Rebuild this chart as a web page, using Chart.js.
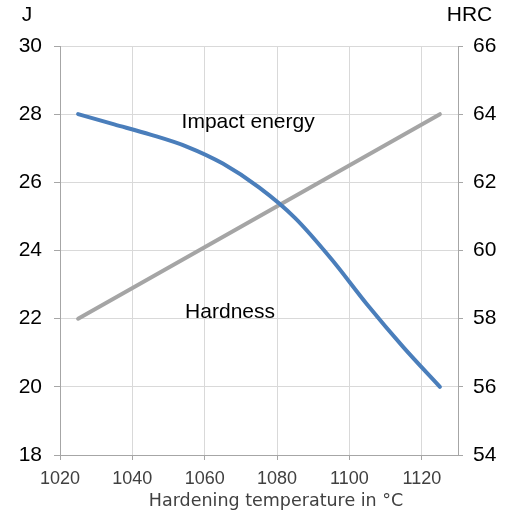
<!DOCTYPE html>
<html>
<head>
<meta charset="utf-8">
<script src="https://cdn.jsdelivr.net/npm/chart.js@4/dist/chart.umd.min.js"></script>
<style>
  html, body { margin: 0; padding: 0; background: #fff; }
  #wrap { width: 506px; height: 511px; position: relative; }
</style>
</head>
<body>
<div id="wrap"><canvas id="hardChart"></canvas></div>
<script>
// temperatures in degC
var impactTemps = [1025, 1035, 1045, 1055, 1065, 1075, 1085, 1095, 1105, 1115, 1125];
// impact energy in J
var impactEnergy = [28.0, 27.7, 27.4, 27.05, 26.55, 25.85, 24.95, 23.75, 22.4, 21.15, 20.0];
// hardness in HRC
var hardTemps = [1025, 1125];
var hardness = [58, 64];

var xTicks = [1020, 1040, 1060, 1080, 1100, 1120];
var leftTicks = [18, 20, 22, 24, 26, 28, 30];
var rightTicks = [54, 56, 58, 60, 62, 64, 66];

function toPoints(xs, ys) {
  var pts = [];
  for (var i = 0; i < xs.length; i++) pts.push({ x: xs[i], y: ys[i] });
  return pts;
}

// draws the unit labels, the x title and the in-chart series labels
var labelsPlugin = {
  id: 'labels',
  afterDraw: function(chart) {
    var c = chart.ctx, a = chart.chartArea;
    var x = chart.scales.x, yl = chart.scales.y;
    c.save();
    c.fillStyle = '#000';
    c.font = '21px "Liberation Sans", Arial, sans-serif';
    c.textBaseline = 'middle';
    c.textAlign = 'center';
    c.fillText('J', a.left - 33, 15);
    c.fillText('HRC', a.right + 11.5, 15);
    c.fillText('Impact energy', x.getPixelForValue(1072), yl.getPixelForValue(27.75));
    c.fillText('Hardness', x.getPixelForValue(1067), yl.getPixelForValue(22.2));
    c.fillStyle = '#404040';
    c.font = '17.5px "DejaVu Sans", sans-serif';
    c.fillText('Hardening temperature in °C', 276, 501);
    c.restore();
  }
};

var ctx = document.getElementById('hardChart').getContext('2d');
var chart = new Chart(ctx, {
  type: 'line',
  data: {
    datasets: [{
      label: 'Impact energy',
      data: toPoints(impactTemps, impactEnergy),
      borderColor: '#4a7ebb',
      borderWidth: 4,
      pointRadius: 0,
      cubicInterpolationMode: 'monotone',
      borderCapStyle: 'round',
      yAxisID: 'y'
    },
    {
      label: 'Hardness',
      data: toPoints(hardTemps, hardness),
      borderColor: '#a5a5a5',
      borderWidth: 4,
      pointRadius: 0,
      borderCapStyle: 'round',
      yAxisID: 'y2'
    }]
  },
  options: {
    responsive: true,
    maintainAspectRatio: false,
    animation: false,
    layout: { padding: { top: 46, left: 0, right: 0, bottom: 0 } },
    plugins: {
      legend: { display: false },
      tooltip: { enabled: false }
    },
    scales: {
      x: {
        type: 'linear',
        min: 1020,
        max: 1130,
        afterBuildTicks: function(s) { s.ticks = xTicks.map(function(v) { return { value: v }; }); },
        afterFit: function(s) { s.height = 56; },
        grid: { color: '#d9d9d9', lineWidth: 1, tickLength: 5, tickColor: '#a6a6a6' },
        border: { color: '#a6a6a6', width: 1 },
        ticks: {
          color: '#404040',
          font: { family: '"Liberation Sans"', size: 18 },
          padding: 8,
          maxRotation: 0,
          callback: function(v) { return String(v); }
        }
      },
      y: {
        position: 'left',
        min: 18,
        max: 30,
        afterBuildTicks: function(s) { s.ticks = leftTicks.map(function(v) { return { value: v }; }); },
        afterFit: function(s) { s.width = 60; },
        grid: { color: '#d9d9d9', lineWidth: 1, tickLength: 6, tickColor: '#a6a6a6' },
        border: { color: '#a6a6a6', width: 1 },
        ticks: { color: '#000', font: { family: '"Liberation Sans"', size: 21 }, padding: 12 }
      },
      y2: {
        position: 'right',
        min: 54,
        max: 66,
        afterBuildTicks: function(s) { s.ticks = rightTicks.map(function(v) { return { value: v }; }); },
        afterFit: function(s) { s.width = 48; },
        grid: { drawOnChartArea: false, color: '#a6a6a6', tickLength: 5, tickColor: '#a6a6a6' },
        border: { color: '#a6a6a6', width: 1 },
        ticks: { color: '#000', font: { family: '"Liberation Sans"', size: 21 }, padding: 10 }
      }
    }
  },
  plugins: [labelsPlugin]
});
</script>
</body>
</html>
